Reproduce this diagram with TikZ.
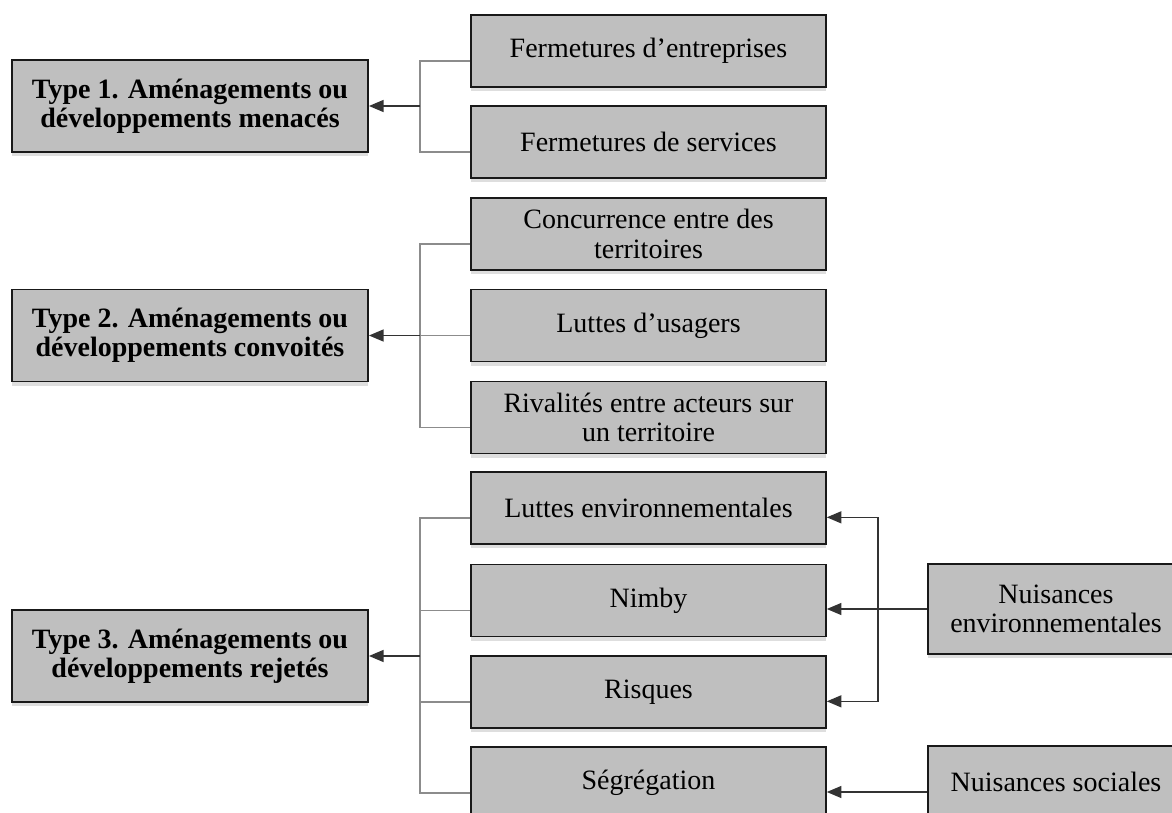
\documentclass[tikz,border=0pt]{standalone}
\usepackage{fontspec}
\setmainfont{Liberation Serif}
\usetikzlibrary{arrows.meta,shadows}

\tikzset{every picture/.style={line width=0.75pt}}
\tikzset{
  boxshadow/.style={drop shadow={shadow xshift=0pt, shadow yshift=-3pt, fill=black!13, opacity=1, draw=none}},
  typebox/.style={draw=black!90, line width=1.4pt, fill=black!25, boxshadow, minimum width=267pt, minimum height=69pt, inner sep=0.75pt, align=center, font=\fontsize{21}{22}\selectfont\bfseries},
  causebox/.style={draw=black!90, line width=1.4pt, fill=black!25, boxshadow, minimum width=266pt, minimum height=54pt, inner sep=0.75pt, align=center, font=\fontsize{21}{22}\selectfont},
  sourcebox/.style={causebox, minimum width=192pt, minimum height=67.5pt},
  bracket/.style={draw=black!45, line width=0.9pt},
  arrowline/.style={draw=black!80, line width=1.1pt, -{Triangle[length=11pt,width=9pt]}},
}

\begin{document}
\begin{tikzpicture}[x=0.75pt,y=0.75pt,yscale=-1]
\useasboundingbox (0,0) rectangle (1172,813);

%Shape: Type boxes
\node[typebox] (t1) at (190,106) {Type 1. Aménagements ou\\développements menacés};
\node[typebox] (t2) at (190,335.5) {Type 2. Aménagements ou\\développements convoités};
\node[typebox] (t3) at (190,656) {Type 3. Aménagements ou\\développements rejetés};

%Shape: middle boxes
\node[causebox] (fe) at (648.5,51) {Fermetures d’entreprises};
\node[causebox] (fs) at (648.5,142) {Fermetures de services};
\node[causebox] (cc) at (648.5,234) {Concurrence entre des\\territoires};
\node[causebox] (lu) at (648.5,325.5) {Luttes d’usagers};
\node[causebox] (ri) at (648.5,417.5) {Rivalités entre acteurs sur\\un territoire};
\node[causebox] (le) at (648.5,508) {Luttes environnementales};
\node[causebox] (ni) at (648.5,600.5) {Nimby};
\node[causebox] (rq) at (648.5,692) {Risques};
\node[causebox] (sg) at (648.5,783) {Ségrégation};

%Shape: right boxes
\node[sourcebox] (ne) at (1056,609) {Nuisances\\environnementales};
\node[sourcebox, minimum height=54pt] (ns) at (1056,782) {Nuisances sociales};

%Straight Lines: type 1
\coordinate (k1) at (420,106);
\draw[bracket] ([yshift=7.5pt]fe.west) -| (k1) |- ([yshift=7.5pt]fs.west);
\draw[arrowline] (k1) -- (t1);

%Straight Lines: type 2
\coordinate (k2) at (420,335.5);
\draw[bracket] ([yshift=7.5pt]cc.west) -| (k2) |- ([yshift=7.5pt]ri.west);
\draw[bracket] (k2) -- ([yshift=7.5pt]lu.west);
\draw[arrowline] (k2) -- (t2);

%Straight Lines: type 3
\coordinate (k3) at (420,656);
\draw[bracket] ([yshift=7.5pt]le.west) -| (k3) |- ([yshift=7.5pt]sg.west);
\draw[bracket] ([yshift=7.5pt]ni.west) -- ([yshift=7.5pt]ni.west -| k3);
\draw[bracket] ([yshift=7.5pt]rq.west) -- ([yshift=7.5pt]rq.west -| k3);
\draw[arrowline] (k3) -- (t3);

%Straight Lines: nuisances
\coordinate (k4) at (878,609);
\draw[arrowline] (ne.west) -- (ne.west -| ni.east);
\draw[arrowline] (k4) |- ([yshift=7pt]le.east);
\draw[arrowline] (k4) |- ([yshift=7pt]rq.east);
\draw[arrowline] ([yshift=7.5pt]ns.west) -- ([yshift=7.5pt]ns.west -| sg.east);

\end{tikzpicture}
\end{document}
